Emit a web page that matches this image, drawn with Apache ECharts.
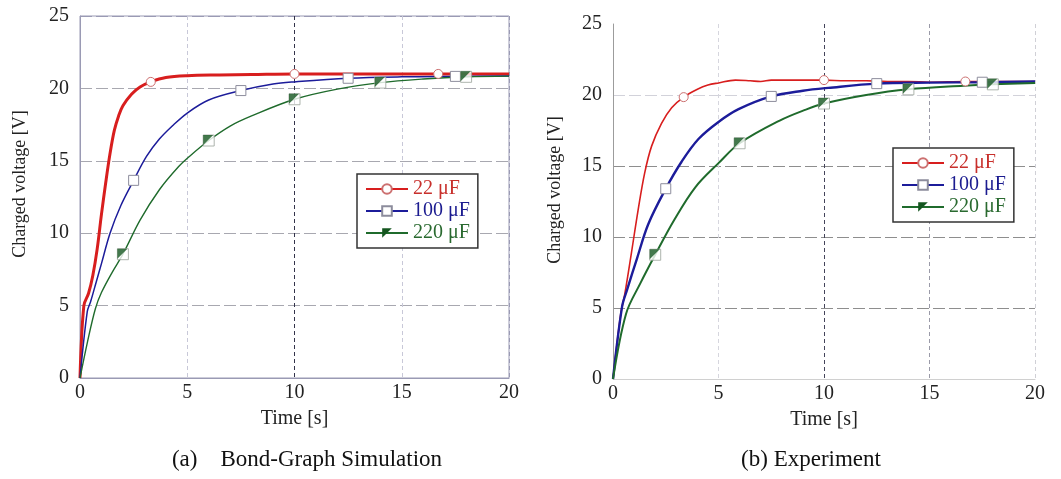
<!DOCTYPE html>
<html>
<head>
<meta charset="utf-8">
<script src="https://cdn.jsdelivr.net/npm/echarts/dist/echarts.min.js"></script>
<style>
  html, body { margin: 0; padding: 0; background: #ffffff; }
  #chart { width: 1061px; height: 479px; }
</style>
</head>
<body>
<div id="chart"></div>
<script>
// ---------- DATA ----------
const seriesNames = ['22 \u03bcF', '100 \u03bcF', '220 \u03bcF'];
const xTicks = [0, 5, 10, 15, 20];
const yTicks = [0, 5, 10, 15, 20, 25];

// (a) Bond-Graph Simulation
const simT22  = [0, 0.18, 0.4, 0.6, 0.8, 1.0, 1.2, 1.4, 1.6, 1.8, 2.0, 2.4, 2.8, 3.3, 4.0, 5.0, 6.5, 8, 10, 13, 16.7, 20];
const simV22  = [0, 5.0, 5.85, 7.1, 8.9, 11.3, 13.5, 15.5, 17.1, 18.1, 18.8, 19.6, 20.1, 20.45, 20.75, 20.88, 20.93, 20.96, 21.0, 21.0, 21.0, 21.0];
const simT100 = [0, 0.34, 0.5, 0.75, 1.0, 1.4, 1.9, 2.5, 3.1, 3.7, 4.3, 5.0, 6.0, 7.5, 9, 10, 12.5, 15, 17.5, 20];
const simV100 = [0, 4.6, 5.3, 6.6, 7.9, 10.0, 11.9, 13.65, 15.3, 16.5, 17.4, 18.3, 19.2, 19.85, 20.3, 20.45, 20.7, 20.8, 20.83, 20.85];
const simT220 = [0, 0.35, 0.72, 1.0, 1.5, 2.0, 2.8, 3.7, 4.6, 5.1, 6.0, 7.0, 8.0, 10, 12, 14, 16, 18, 20];
const simV220 = [0, 2.5, 4.8, 5.9, 7.3, 8.55, 10.9, 13.0, 14.6, 15.3, 16.4, 17.4, 18.1, 19.25, 19.95, 20.4, 20.65, 20.8, 20.85];

// (b) Experiment
const expT22  = [0, 0.37, 0.56, 0.87, 1.19, 1.5, 1.83, 2.3, 2.78, 3.35, 4.0, 4.5, 5.0, 5.8, 6.5, 7, 7.5, 8.5, 10, 11, 12, 13, 14, 15, 16.7, 18, 20];
const expV22  = [0, 4.6, 6.0, 8.85, 11.9, 14.5, 16.4, 18.0, 19.1, 19.85, 20.4, 20.7, 20.85, 21.05, 21.0, 20.95, 21.05, 21.05, 21.05, 21.0, 21.0, 20.95, 20.95, 20.9, 20.95, 20.95, 20.95];
const expT100 = [0, 0.43, 0.67, 1.14, 1.67, 2.5, 3.25, 4.05, 5.0, 5.95, 7.5, 9, 10.2, 12.5, 15, 17.5, 20];
const expV100 = [0, 5.1, 6.3, 8.5, 10.9, 13.4, 15.3, 16.9, 18.1, 19.0, 19.9, 20.3, 20.5, 20.8, 20.87, 20.9, 20.95];
const expT220 = [0, 0.62, 1.3, 2, 2.9, 3.9, 5, 6, 7.9, 9.1, 10, 12, 14, 16.6, 18, 20];
const expV220 = [0, 4.6, 6.75, 8.75, 11.2, 13.5, 15.2, 16.6, 18.2, 18.95, 19.4, 20.0, 20.4, 20.65, 20.75, 20.85];

// marker times (must be members of the time arrays)
const mark22  = [3.3, 10, 16.7];
const mark22e = [3.35, 10, 16.7];
const mark100 = [2.5, 7.5, 12.5, 17.5];
const mark220 = [2, 6, 10, 14, 18];

const captions = ['(a)    Bond-Graph Simulation', '(b) Experiment'];
const xName = 'Time [s]';
const yName = 'Charged voltage [V]';

// ---------- STYLE ----------
const FONT = 'Liberation Serif';
const RED = '#d81e1e', BLUE = '#1c1c9a', GREEN = '#1f6b2c';
const TRI = 'path://M0,0L10,0L0,10Z';

function lineData(t, v, marks) {
  return t.map((x, i) => marks.indexOf(x) >= 0 ? [x, v[i]] : { value: [x, v[i]], symbol: 'none' });
}
function pts(t, v, marks) {
  return t.map((x, i) => [x, v[i]]).filter(p => marks.indexOf(p[0]) >= 0);
}

function xAxis(gi, lineColor, splitColors, splitTypes) {
  return {
    type: 'value', gridIndex: gi, min: 0, max: 20, interval: 5,
    axisLine: { show: true, lineStyle: { color: lineColor, width: 1 } },
    axisTick: { show: false },
    axisLabel: { fontFamily: FONT, fontSize: 20, color: '#222', margin: 5,
      formatter: v => xTicks.indexOf(v) >= 0 ? String(v) : '' },
    splitLine: { show: true, lineStyle: { color: splitColors, type: splitTypes, width: 1 } },
    name: xName, nameLocation: 'middle', nameGap: 31,
    nameTextStyle: { fontFamily: FONT, fontSize: 20, color: '#222' }
  };
}
function yAxis(gi, lineColor, splitColors) {
  return {
    type: 'value', gridIndex: gi, min: 0, max: 25, interval: 5,
    axisLine: { show: true, lineStyle: { color: lineColor, width: 1 } },
    axisTick: { show: false },
    axisLabel: { fontFamily: FONT, fontSize: 20, color: '#222', margin: 11,
      formatter: v => yTicks.indexOf(v) >= 0 ? String(v) : '' },
    splitLine: { show: true, lineStyle: { color: splitColors, type: [12, 4], width: 1 } }
  };
}

function lineSeries(name, gi, t, v, marks, color, width, symbol, size, border) {
  return {
    name: name, type: 'line', xAxisIndex: gi, yAxisIndex: gi,
    data: lineData(t, v, marks), smooth: 0.35,
    showSymbol: true, symbol: symbol, symbolSize: size, symbolKeepAspect: true,
    lineStyle: { color: color, width: width },
    itemStyle: { color: border ? '#ffffff' : color, borderColor: border || color, borderWidth: 1 },
    emphasis: { disabled: true }, animation: false, z: 3
  };
}
function greenSeries(gi, t, v, width) {
  return [
    {
      name: seriesNames[2], type: 'line', xAxisIndex: gi, yAxisIndex: gi,
      data: lineData(t, v, []), smooth: 0.35,
      showSymbol: true, symbol: TRI, symbolSize: 9, symbolKeepAspect: true,
      lineStyle: { color: GREEN, width: width }, itemStyle: { color: '#14561f' },
      emphasis: { disabled: true }, animation: false, z: 3
    },
    {
      type: 'scatter', xAxisIndex: gi, yAxisIndex: gi, data: pts(t, v, mark220),
      symbol: 'rect', symbolSize: 11, itemStyle: { color: '#ffffff', borderColor: '#9aa39a', borderWidth: 1 },
      emphasis: { disabled: true }, animation: false, z: 4
    },
    {
      type: 'scatter', xAxisIndex: gi, yAxisIndex: gi, data: pts(t, v, mark220),
      symbol: TRI, symbolSize: 10, symbolOffset: [-0.5, -0.5], itemStyle: { color: '#14561f' },
      emphasis: { disabled: true }, animation: false, z: 5
    }
  ];
}

function legend(left, top) {
  return {
    orient: 'vertical', left: left, top: top,
    backgroundColor: '#ffffff', borderColor: '#333', borderWidth: 1.5,
    padding: [5, 8, 5, 8], itemGap: 2, itemWidth: 42, itemHeight: 12,
    selectedMode: false,
    textStyle: { fontFamily: FONT, fontSize: 20 },
    data: [
      { name: seriesNames[0], textStyle: { color: '#c8302c' } },
      { name: seriesNames[1], textStyle: { color: '#1c1c90' } },
      { name: seriesNames[2], textStyle: { color: '#2a6a30' } }
    ]
  };
}

const chart = echarts.init(document.getElementById('chart'), null, { renderer: 'canvas' });
chart.setOption({
  backgroundColor: '#ffffff',
  animation: false,
  grid: [
    { left: 80, right: 552, top: 16, bottom: 101, show: true, borderColor: '#9a9ab4', borderWidth: 1 },
    { left: 613, right: 26, top: 24, bottom: 100, show: false }
  ],
  xAxis: [
    xAxis(0, '#9a9ab4', ['#9a9ab4', '#c8c8d8', '#33334a', '#c8c8d8', '#9a9ab4'], [4, 3]),
    xAxis(1, '#d0d0d0', ['#bbbbbb', '#d6d6de', '#44445a', '#9a9aa8', '#d0d0d6'], [4, 3])
  ],
  yAxis: [
    yAxis(0, '#9a9ab4', ['#9a9ab4', '#a8a8b0', '#a8a8b0', '#a8a8b0', '#a8a8b0', '#9a9ab4']),
    yAxis(1, '#9c9c9c', ['#cccccc', '#8e8e8e', '#8e8e8e', '#8e8e8e', '#d2d2da', '#ffffff'])
  ],
  legend: [legend(357, 174), legend(893, 148)],
  series: [
    lineSeries(seriesNames[0], 0, simT22, simV22, mark22, RED, 3, 'circle', 9, '#cc7070'),
    lineSeries(seriesNames[1], 0, simT100, simV100, mark100, BLUE, 1.5, 'rect', 10, '#8c8c9c'),
    ...greenSeries(0, simT220, simV220, 1.4),
    lineSeries(seriesNames[0], 1, expT22, expV22, mark22e, RED, 1.6, 'circle', 9, '#cc7070'),
    lineSeries(seriesNames[1], 1, expT100, expV100, mark100, BLUE, 2.4, 'rect', 10, '#8c8c9c'),
    ...greenSeries(1, expT220, expV220, 2)
  ],
  graphic: [
    { type: 'text', x: 20, y: 184, rotation: Math.PI / 2,
      style: { text: yName, fontFamily: FONT, fontSize: 18, fill: '#222', align: 'center', verticalAlign: 'middle' } },
    { type: 'text', x: 555, y: 190, rotation: Math.PI / 2,
      style: { text: yName, fontFamily: FONT, fontSize: 18, fill: '#222', align: 'center', verticalAlign: 'middle' } },
    { type: 'text', x: 307, y: 460,
      style: { text: captions[0], fontFamily: FONT, fontSize: 23, fill: '#111', align: 'center', verticalAlign: 'middle' } },
    { type: 'text', x: 811, y: 460,
      style: { text: captions[1], fontFamily: FONT, fontSize: 23, fill: '#111', align: 'center', verticalAlign: 'middle' } }
  ]
});
</script>
</body>
</html>
